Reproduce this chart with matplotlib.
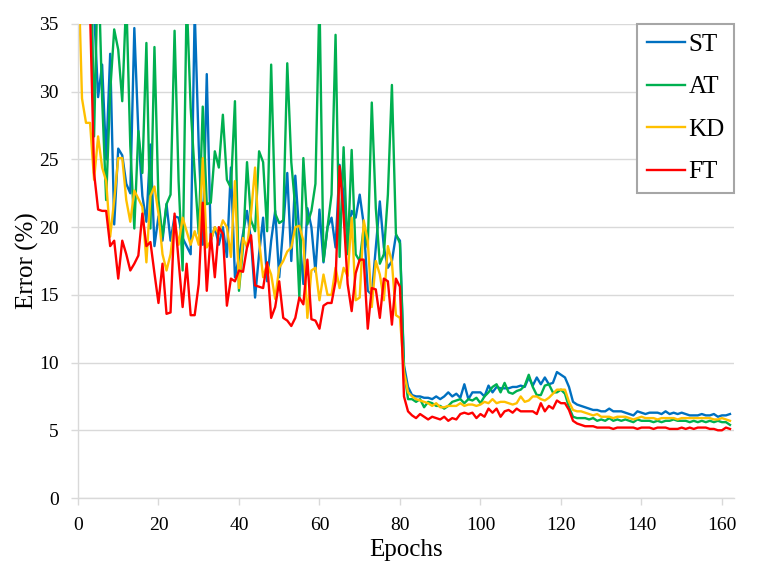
import numpy as np
import matplotlib
matplotlib.use('Agg')
import matplotlib.pyplot as plt

plt.rcParams['font.family'] = ['Liberation Serif', 'DejaVu Serif']

# error (%) per epoch
st = [80, 70, 55, 45, 36, 29.6, 32, 25, 32.8, 20.2,
      25.8, 25.3, 23.2, 22.5, 34.7, 27, 22.3, 20.4, 26.1, 18.6,
      20.8, 19, 21.7, 19, 20.8, 20.7, 19.2, 18.6, 18, 36,
      26, 18.7, 31.3, 19, 20, 18.7, 20, 17.8, 24.4, 16.3,
      17.8, 19.5, 21.2, 19, 14.8, 18, 20.7, 16, 19, 21.2,
      16.3, 20, 24, 17.5, 23.8, 19.5, 15.8, 21.4, 20, 16.7,
      21.3, 17.4, 20, 20.7, 18.5, 24.6, 22.4, 19, 21.2, 20.7,
      22.4, 20.2, 15.3, 15, 18.5, 21.9, 18.5, 17, 17.5, 19.4,
      19, 9.8,
      8.2, 7.6, 7.5, 7.5, 7.4, 7.4, 7.3, 7.5, 7.3, 7.5,
      7.8, 7.5, 7.7, 7.4, 8.4, 7.3, 7.8, 7.8, 7.8, 7.5,
      8.3, 7.8, 8.2, 8.1, 8.1, 8.1, 8.2, 8.2, 8.3, 8.2,
      8.9, 8.3, 8.9, 8.4, 8.9, 8.4, 8.5, 9.3, 9.1,
      8.9, 8.2, 7.1, 6.9, 6.8, 6.7, 6.6, 6.5, 6.5, 6.4,
      6.4, 6.6, 6.4, 6.4, 6.4, 6.3, 6.2, 6.1, 6.4, 6.3,
      6.2, 6.3, 6.3, 6.3, 6.2, 6.4, 6.2, 6.3, 6.2, 6.3,
      6.2, 6.1, 6.1, 6.1, 6.2, 6.1, 6.1, 6.2, 6.0, 6.1,
      6.1, 6.2]

at = [90, 80, 60, 45, 26.7, 40, 29.5, 22, 30, 34.6,
      33.1, 29.3, 37, 26, 19.9, 27.1, 24, 33.6, 19.9, 33.3,
      22, 19.3, 21.7, 22.4, 34.5, 23.4, 16.8, 37, 28.8, 24,
      19.5, 28.9, 21.7, 21.8, 25.6, 24.4, 28.3, 23.5, 22.9, 29.3,
      15.3, 18.5, 24.8, 20.5, 19.7, 25.6, 24.8, 19.7, 32, 21,
      20.3, 20.5, 32.1, 24.8, 21.4, 14.8, 25.1, 20.2, 21.2, 23.2,
      37, 17.5, 20, 22.4, 34.2, 17.8, 25.9, 18, 25.7, 18,
      17.5, 20, 18.5, 29.2, 21.4, 17.3, 18, 22.4, 30.5, 19.5,
      18.8, 9.5,
      7.3, 7.3, 7.1, 7.3, 6.7, 7.1, 7.0, 6.8, 6.8, 6.6,
      6.8, 7.1, 7.2, 7.3, 7.0, 7.3, 7.2, 7.4, 7.0, 7.5,
      7.8, 8.2, 8.4, 7.8, 8.5, 7.8, 7.7, 7.9, 8.0, 8.3,
      9.1, 8.2, 7.6, 7.6, 8.3, 8.4, 7.8, 7.8, 8.0,
      7.7, 6.7, 6.0, 5.9, 5.9, 5.9, 5.8, 5.9, 5.7, 5.8,
      5.7, 5.9, 5.7, 5.8, 5.7, 5.8, 5.7, 5.6, 5.8, 5.7,
      5.7, 5.7, 5.6, 5.7, 5.6, 5.7, 5.7, 5.8, 5.7, 5.7,
      5.7, 5.6, 5.7, 5.6, 5.7, 5.6, 5.7, 5.6, 5.7, 5.6,
      5.6, 5.4]

kd = [40, 29.5, 27.7, 27.7, 23.5, 26.7, 24.4, 23.4, 19.3, 22,
      25.1, 25.1, 22, 20.4, 22.7, 22.1, 21.5, 17.4, 22.3, 23,
      21, 18, 16.8, 18, 20.5, 18.7, 20.7, 19.7, 18.7, 19.7,
      18.7, 25.1, 18.5, 19, 20, 19.5, 20.5, 20, 17.8, 23.4,
      15.5, 19.2, 18.5, 21, 24.4, 19, 16.3, 17.3, 16.5, 14.7,
      17, 17.5, 18.2, 18.5, 20, 20.1, 19, 13.3, 16.8, 17,
      14.6, 16.5, 15, 15, 17, 15.5, 17, 16.4, 20.7, 14.6,
      14.8, 20.5, 19, 14.1, 17.5, 16.5, 14.6, 18.6, 17.4, 13.5,
      13.3, 9.3,
      7.8, 7.5, 7.3, 7.2, 7.1, 7.0, 6.8, 7.0, 6.7, 6.7,
      6.8, 6.8, 6.8, 7.0, 6.8, 6.9, 6.9, 6.8, 6.9, 7.1,
      7.0, 7.3, 7.0, 7.1, 7.1, 7.0, 6.9, 7.0, 7.5, 7.1,
      7.2, 7.5, 7.5, 7.3, 7.2, 7.4, 7.7, 8.0, 8.0,
      8.0, 7.1, 6.5, 6.4, 6.4, 6.3, 6.2, 6.1, 6.2, 6.0,
      6.0, 6.0, 5.9, 6.0, 6.0, 6.0, 5.9, 5.8, 5.9, 6.0,
      5.9, 5.9, 5.9, 5.8, 5.9, 5.9, 5.9, 5.9, 5.8, 5.9,
      5.9, 5.9, 5.9, 5.9, 5.9, 5.9, 5.9, 5.8, 5.8, 5.9,
      5.8, 5.7]

ft = [90, 70, 50, 36, 24, 21.3, 21.2, 21.2, 18.6, 19,
      16.2, 19, 18, 16.8, 17.3, 17.9, 21, 18.6, 18.9, 16.6,
      14.4, 17.3, 13.6, 13.7, 21, 17.5, 14.1, 17.3, 13.5, 13.5,
      15.8, 21.8, 15.3, 19.5, 16.3, 20, 19.5, 14.2, 16.2, 16,
      16.8, 16.7, 18.5, 19.4, 15.7, 15.6, 15.5, 17.4, 13.3, 14.1,
      16, 13.3, 13.1, 12.7, 13.3, 14.8, 14.3, 17.6, 13.2, 13.1,
      12.5, 14.2, 14.4, 14.4, 16, 24.5, 20.9, 15.8, 13.8, 16.6,
      17.6, 17.6, 12.5, 15.5, 15.4, 13.3, 16.2, 16, 12.8, 16.2,
      15.6, 7.5,
      6.4, 6.1, 5.9, 6.2, 6.0, 5.8, 6.0, 5.9, 5.8, 6.0,
      5.7, 5.9, 5.8, 6.2, 6.3, 6.2, 6.3, 5.9, 6.2, 6.0,
      6.6, 6.3, 6.6, 6.0, 6.4, 6.5, 6.3, 6.6, 6.4, 6.4,
      6.4, 6.4, 6.2, 7.0, 6.4, 6.8, 6.6, 7.2, 7.0,
      7.0, 6.5, 5.7, 5.5, 5.4, 5.3, 5.3, 5.3, 5.2, 5.2,
      5.2, 5.2, 5.1, 5.2, 5.2, 5.2, 5.2, 5.2, 5.1, 5.2,
      5.2, 5.2, 5.1, 5.2, 5.2, 5.2, 5.1, 5.1, 5.1, 5.2,
      5.1, 5.2, 5.1, 5.2, 5.2, 5.2, 5.1, 5.1, 5.0, 5.0,
      5.2, 5.1]

labels = ['ST', 'AT', 'KD', 'FT']
colores = ['#0070C0', '#00B050', '#FFC000', '#FF0000']

fig = plt.figure(figsize=(7.69, 5.74), dpi=100)
ax = fig.add_axes([0.1014, 0.1324, 0.8531, 0.8258])

for serie, lab, c in zip([st, at, kd, ft], labels, colores):
    ax.plot(np.arange(len(serie)), serie, color=c, lw=1.7, label=lab,
            solid_joinstyle='round')

ax.set_xlim(0, 163)
ax.set_ylim(0, 35)
ax.set_xticks(range(0, 161, 20))
ax.set_yticks(range(0, 36, 5))
ax.tick_params(labelsize=14, length=5, width=1, color='#D9D9D9',
               labelcolor='black', direction='out')
ax.tick_params(axis='x', pad=9)
ax.tick_params(axis='y', pad=9)
ax.grid(True, axis='y', color='#D9D9D9', lw=1)
ax.set_axisbelow(True)
for s in ['top', 'right']:
    ax.spines[s].set_visible(False)
for s in ['left', 'bottom']:
    ax.spines[s].set_color('#D9D9D9')
    ax.spines[s].set_linewidth(1)

ax.set_xlabel('Epochs', fontsize=18, labelpad=3)
ax.set_ylabel('Error (%)', fontsize=18, labelpad=0)

leg = ax.legend(loc='upper right', bbox_to_anchor=(1.0, 1.0), borderaxespad=0,
                fontsize=18, fancybox=False, framealpha=1, edgecolor='#A6A6A6',
                handlelength=1.55, handletextpad=0.12, labelspacing=0.8,
                borderpad=0.38)
leg.get_frame().set_linewidth(1.5)

plt.savefig('out.png', dpi=100)
